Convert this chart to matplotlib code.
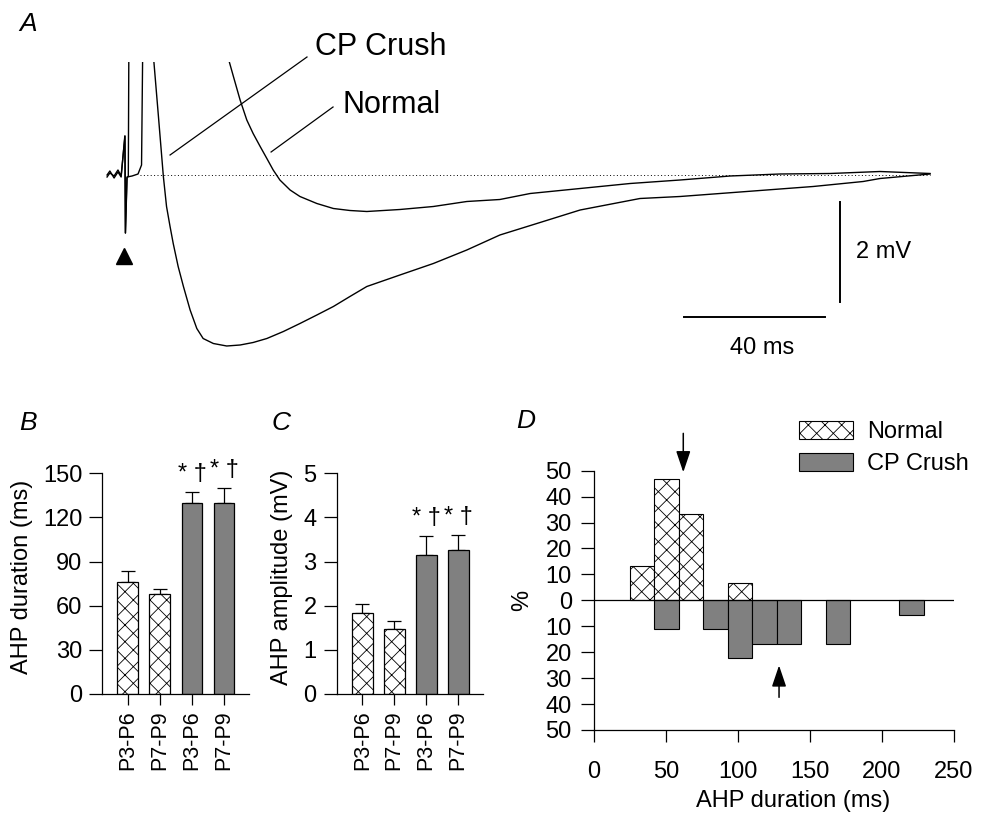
import numpy as np
import matplotlib
matplotlib.use("Agg")
import matplotlib.pyplot as plt

plt.rcParams['font.family'] = ['Liberation Sans', 'DejaVu Sans']
plt.rcParams['hatch.linewidth'] = 0.6
plt.rcParams['axes.linewidth'] = 0.9

# ---- panel A: AHP traces (ms, mV relative to resting level)
t_normal = [-5.1, -4.3, -3.1, -2.0, -1.1, -0.05, 0.1, 0.57, 2.0, 3.7, 4.7, 5.0, 6.0,
            29.6, 30.8, 32.7, 34.6, 36.4, 38.4, 40.3, 42.1, 44.0, 46.9, 49.7, 54.5,
            59.2, 63.9, 68.7, 78.1, 87.6, 97.1, 106.5, 115.1, 129.3, 143.5, 157.7,
            171.9, 186.1, 200.3, 214.5, 228.7]
v_normal = [0.0, 0.08, -0.06, 0.06, -0.04, 0.78, -1.16, -0.04, -0.02, 0.02, 0.2, 2.3, 60.0,
            2.27, 1.97, 1.5, 1.1, 0.83, 0.57, 0.33, 0.1, -0.1, -0.3, -0.43, -0.57,
            -0.67, -0.71, -0.73, -0.69, -0.63, -0.53, -0.49, -0.37, -0.27, -0.17, -0.1,
            -0.02, 0.02, 0.03, 0.07, 0.03]

t_crush = [-5.1, -4.3, -3.1, -2.0, -1.1, 0.0, 0.14, 0.57, 0.94, 1.08, 2.0,
           8.2, 9.5, 10.9, 11.8, 12.8, 13.7, 15.1, 16.6, 18.5, 20.4, 22.2, 25.1,
           28.9, 32.7, 36.4, 40.3, 45.0, 49.7, 54.5, 59.2, 63.9, 68.7, 78.1, 87.6,
           97.1, 106.5, 117.0, 129.3, 146.3, 157.7, 176.6, 195.5, 209.7, 214.5, 228.7]
v_crush = [-0.04, 0.04, -0.02, 0.1, -0.02, 0.78, -1.16, -0.06, -0.02, 2.3, 60.0,
           2.27, 1.17, -0.03, -0.63, -1.03, -1.37, -1.83, -2.23, -2.7, -3.07, -3.27, -3.37,
           -3.42, -3.4, -3.35, -3.27, -3.13, -2.97, -2.8, -2.63, -2.43, -2.23, -2.0, -1.77,
           -1.5, -1.2, -0.97, -0.7, -0.47, -0.43, -0.33, -0.23, -0.13, -0.07, 0.02]

# ---- panels B and C: group means +/- SEM
groups = ['P3-P6', 'P7-P9', 'P3-P6', 'P7-P9']
is_crush = [False, False, True, True]
dur_mean = [76, 68, 130, 130]
dur_sem = [7.5, 3.5, 7.3, 10.0]
amp_mean = [1.83, 1.47, 3.15, 3.26]
amp_sem = [0.2, 0.19, 0.43, 0.34]
signif = ['', '', '* \u2020', '* \u2020']

# ---- panel D: distribution of AHP durations (% of cells per bin)
bin_left = [25, 42, 59, 76, 93, 110, 127, 144, 161, 178, 195, 212]
bin_width = 17
normal_pct = [13.3, 46.7, 33.3, 0, 6.7, 0, 0, 0, 0, 0, 0, 0]
crush_pct = [0, 11.1, 0, 11.1, 22.2, 16.7, 16.7, 0, 16.7, 0, 0, 5.6]
normal_arrow = 62
crush_arrow = 128.5

W, H = 993, 814
fig = plt.figure(figsize=(W / 100, H / 100), dpi=100)
GREY = '#808080'


def px_axes(x0, y0, x1, y1):
    return fig.add_axes([x0 / W, 1 - y1 / H, (x1 - x0) / W, (y1 - y0) / H])


def letter(x, y, s):
    fig.text(x / W, 1 - y / H, s, fontsize=19, style='italic', va='top', ha='left')


# ================= A =================
px_ms, px_mv = 3.52, 50.0
axA = px_axes(100, 62, 960, 360)
axA.set_xlim((100 - 125) / px_ms, (960 - 125) / px_ms)
axA.set_ylim((175 - 360) / px_mv, (175 - 62) / px_mv)
axA.axis('off')
axA.plot(t_normal, v_normal, color='k', lw=1.0)
axA.plot(t_crush, v_crush, color='k', lw=1.0)
axA.hlines(0, 4.3, t_normal[-1], colors='k', linestyles=(0, (1, 2.5)), lw=0.7)
axA.plot([-0.3], [-1.62], marker='^', color='k', ms=11, clip_on=False)

# labels with leader lines
axA.plot([12.8, 51.7], [0.4, 2.36], color='k', lw=0.9, clip_on=False)
axA.plot([41.5, 59.1], [0.46, 1.36], color='k', lw=0.9, clip_on=False)
axA.text(54.0, 2.56, 'CP Crush', fontsize=22, va='center', ha='left')
axA.text(61.9, 1.4, 'Normal', fontsize=22, va='center', ha='left')

# scale bars
axA.plot([158.8, 198.8], [-2.84, -2.84], color='k', lw=1.4)
axA.text(180.9, -3.46, '40 ms', fontsize=17, ha='center', va='center')
axA.plot([203.1, 203.1], [-0.54, -2.54], color='k', lw=1.4)
axA.text(207.7, -1.53, '2 mV', fontsize=17, ha='left', va='center')

letter(19, 12, 'A')


# ================= B & C =================
def bar_panel(ax, mean, sem, ymax, step, ylabel, label_x):
    x = np.arange(len(groups))
    for xi, m, crush in zip(x, mean, is_crush):
        if crush:
            ax.bar(xi, m, width=0.654, color=GREY, edgecolor='k', lw=0.9, zorder=2)
        else:
            ax.bar(xi, m, width=0.654, color='white', edgecolor='k', lw=0.9,
                   hatch='xx', zorder=2)
    ax.errorbar(x, mean, yerr=[np.zeros(len(sem)), sem], fmt='none', ecolor='k',
                elinewidth=0.9, capsize=5, capthick=0.9, zorder=1)
    for xi, m, s, lab in zip(x, mean, sem, signif):
        if lab:
            ax.annotate(lab, (xi, m + s), xytext=(0, 5), textcoords='offset points',
                        ha='center', va='bottom', fontsize=17)
    ax.set_xlim(-0.8, 3.78)
    ax.set_ylim(0, ymax)
    ax.set_yticks(np.arange(0, ymax + step / 2, step))
    ax.set_xticks(x)
    ax.set_xticklabels(groups, rotation=90, fontsize=15.5)
    ax.tick_params(axis='y', labelsize=17, length=9.5, width=0.9, pad=5)
    ax.tick_params(axis='x', length=8, width=0.9, pad=4)
    for sp in ['top', 'right']:
        ax.spines[sp].set_visible(False)
    ax.set_ylabel(ylabel, fontsize=17)
    ax.yaxis.label.set_va('center')
    ax.yaxis.set_label_coords(label_x, 0.53)


axB = px_axes(102.3, 473.3, 249, 694)
bar_panel(axB, dur_mean, dur_sem, 150, 30, 'AHP duration (ms)', -0.549)
letter(19, 411, 'B')

axC = px_axes(336.7, 473.3, 483, 694)
bar_panel(axC, amp_mean, amp_sem, 5, 1, 'AHP amplitude (mV)', -0.375)
letter(272, 411, 'C')

# ================= D =================
axD = px_axes(594, 470.7, 954, 730)
left = np.array(bin_left)
npct = np.array(normal_pct)
cpct = np.array(crush_pct)
hn = axD.bar(left[npct > 0], npct[npct > 0], width=bin_width, align='edge',
             color='white', edgecolor='k', lw=0.8, hatch='xx', label='Normal')
hc = axD.bar(left[cpct > 0], -cpct[cpct > 0], width=bin_width, align='edge',
             color=GREY, edgecolor='k', lw=0.8, label='CP Crush')
axD.axhline(0, color='k', lw=0.9)
axD.set_xlim(0, 250)
axD.set_ylim(-50, 50)
yt = np.arange(-50, 51, 10)
axD.set_yticks(yt)
axD.set_yticklabels([str(abs(v)) for v in yt])
axD.set_xticks(np.arange(0, 251, 50))
axD.tick_params(axis='y', labelsize=17, length=9.5, width=0.9, pad=6.5)
axD.tick_params(axis='x', labelsize=17, length=8.5, width=0.9, pad=14)
for sp in ['top', 'right']:
    axD.spines[sp].set_visible(False)
axD.set_xlabel('AHP duration (ms)', fontsize=17)
axD.xaxis.set_label_coords(0.554, -0.23)
axD.set_ylabel('%', fontsize=17)
axD.yaxis.label.set_va('center')
axD.yaxis.set_label_coords(-0.2, 0.5)

arrow_style = dict(arrowstyle='-|>,head_length=0.65,head_width=0.22', color='k',
                   lw=1.1, mutation_scale=20, shrinkA=0, shrinkB=0)
axD.annotate('', xy=(normal_arrow, 49.4), xytext=(normal_arrow, 64.4),
             arrowprops=arrow_style, annotation_clip=False)
axD.annotate('', xy=(crush_arrow, -25.1), xytext=(crush_arrow, -37.4),
             arrowprops=arrow_style, annotation_clip=False)

axD.legend(handles=[hn, hc], loc='upper left', bbox_to_anchor=(799 / W, 1 - 421 / H),
           bbox_transform=fig.transFigure, frameon=False, fontsize=17, borderpad=0,
           borderaxespad=0, handlelength=2.3, handleheight=0.8, handletextpad=0.6,
           labelspacing=0.42)
letter(516, 409, 'D')

fig.savefig('out.png', dpi=100)
